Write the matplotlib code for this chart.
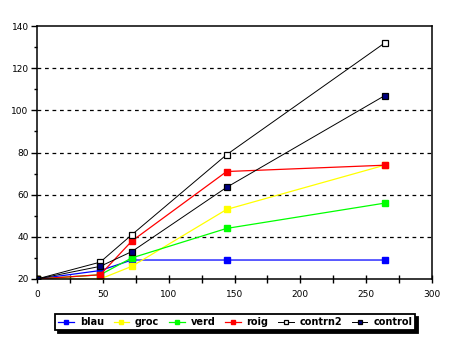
import numpy as np
import matplotlib.pyplot as plt
from matplotlib.ticker import MultipleLocator

# sampling times and the measured values of each series
x = [0, 48, 72, 144, 264]
blau = [20, 24, 29, 29, 29]
groc = [20, 20, 26, 53, 74]
verd = [20, 22, 30, 44, 56]
roig = [20, 22, 38, 71, 74]
contrn2 = [20, 28, 41, 79, 132]
control = [20, 26, 33, 63.5, 107]

fig = plt.figure(figsize=(4.65, 3.44), dpi=100)
ax = fig.add_axes([0.0796, 0.189, 0.8495, 0.735])

ms = 4.2
ax.plot(x, blau, color='#0000ff', lw=0.9, marker='s', ms=ms, mfc='#0000ff', mec='#0000ff', label='blau')
ax.plot(x, groc, color='#ffff00', lw=0.9, marker='s', ms=ms, mfc='#ffff00', mec='#ffff00', label='groc')
ax.plot(x, verd, color='#00ff00', lw=0.9, marker='s', ms=ms, mfc='#00ff00', mec='#00ff00', label='verd')
ax.plot(x, roig, color='#ff0000', lw=0.9, marker='s', ms=ms, mfc='#ff0000', mec='#ff0000', label='roig')
ax.plot(x, contrn2, color='black', lw=0.7, marker='s', ms=ms, mfc='white', mec='black', mew=0.9, label='contrn2')
ax.plot(x, control, color='black', lw=0.7, marker='s', ms=ms, mfc='#000080', mec='black', mew=0.9, label='control')

ax.set_xlim(0, 300)
ax.set_ylim(20, 140)
ax.xaxis.set_major_locator(MultipleLocator(50))
ax.xaxis.set_minor_locator(MultipleLocator(25))
ax.yaxis.set_major_locator(MultipleLocator(20))
ax.yaxis.set_minor_locator(MultipleLocator(10))
ax.tick_params(axis='x', which='both', direction='inout', length=6, width=1, labelsize=6.5, pad=5)
ax.tick_params(axis='y', which='major', direction='out', length=4, width=1, labelsize=6.5, pad=2)
ax.tick_params(axis='y', which='minor', direction='out', length=2, width=1)
for s in ax.spines.values():
    s.set_linewidth(1.1)

# dashed horizontal grid
for yv in range(40, 140, 20):
    ax.axhline(yv, color='black', lw=0.9, ls=(0, (3, 3)), zorder=0)

leg = fig.legend(loc='center', bbox_to_anchor=(0.506, 0.064), ncol=6,
                 prop={'weight': 'bold', 'size': 7}, frameon=True, fancybox=False,
                 shadow={'color': 'black', 'alpha': 1}, borderpad=0.3, handlelength=1.6,
                 handletextpad=0.6, columnspacing=1.0, borderaxespad=0, markerscale=0.8)
leg.get_frame().set_edgecolor('black')
leg.get_frame().set_linewidth(1.3)

fig.savefig('out.png', dpi=100)
